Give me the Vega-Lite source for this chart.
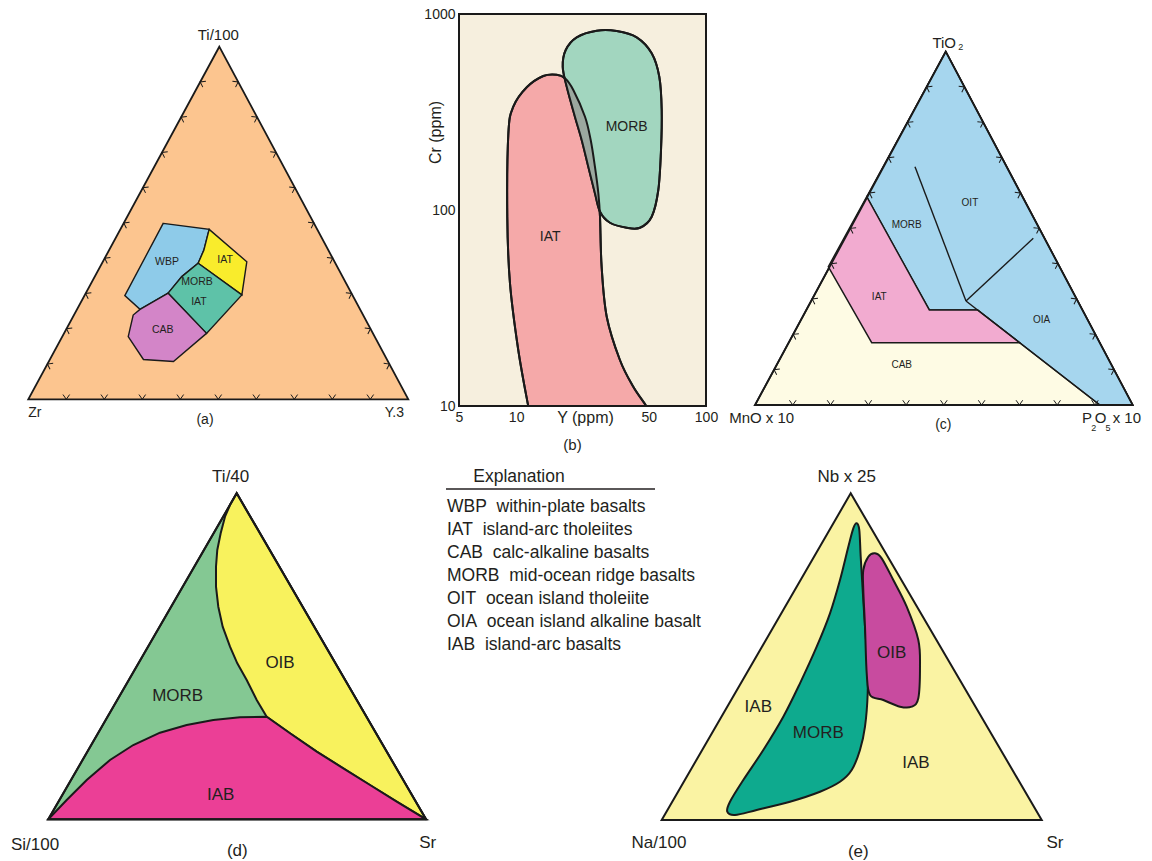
{
  "$schema": "https://vega.github.io/schema/vega-lite/v6.json",
  "padding": 0,
  "background": "white",
  "config": {
    "view": {"stroke": null},
    "text": {"font": "Liberation Sans", "color": "#231f20"},
    "axis": {"labelFont": "Liberation Sans", "titleFont": "Liberation Sans"}
  },
  "datasets": {
    "tri_a": [{"u": 0, "v": 0}, {"u": 1, "v": 0}, {"u": 0.5026, "v": 1}],
    "tri_c": [{"u": 0, "v": 0}, {"u": 1, "v": 0}, {"u": 0.505, "v": 1}],
    "tri_d": [{"u": 0, "v": 0}, {"u": 1, "v": 0}, {"u": 0.4988, "v": 1}],
    "tri_e": [{"u": 0, "v": 0}, {"u": 1, "v": 0}, {"u": 0.4974, "v": 1}],
    "b_iat": [
      {"Y": 12.12, "Cr": 8.0}, {"Y": 11.59, "Cr": 9.92}, {"Y": 10.26, "Cr": 19.31}, {"Y": 9.28, "Cr": 42.27},
      {"Y": 8.98, "Cr": 92.4}, {"Y": 9.1, "Cr": 246.2}, {"Y": 9.66, "Cr": 336.5}, {"Y": 11.37, "Cr": 422.7},
      {"Y": 13.9, "Cr": 482.8}, {"Y": 16.35, "Cr": 490.1}, {"Y": 18.09, "Cr": 469.9}, {"Y": 20.0, "Cr": 409.6},
      {"Y": 23.05, "Cr": 299.2}, {"Y": 24.7, "Cr": 227.6}, {"Y": 26.0, "Cr": 166.3}, {"Y": 27.1, "Cr": 121.7},
      {"Y": 27.65, "Cr": 92.4}, {"Y": 28.2, "Cr": 51.36}, {"Y": 30.0, "Cr": 28.55}, {"Y": 35.2, "Cr": 17.17},
      {"Y": 41.4, "Cr": 12.54}, {"Y": 48.7, "Cr": 9.92}, {"Y": 55.2, "Cr": 8.0}, {"Y": 27.65, "Cr": 7.6}
    ],
    "b_morb": [
      {"Y": 17.59, "Cr": 538.3}, {"Y": 18.24, "Cr": 655.2}, {"Y": 20.84, "Cr": 760.4}, {"Y": 26.56, "Cr": 821.9},
      {"Y": 33.85, "Cr": 819}, {"Y": 43.15, "Cr": 760.4}, {"Y": 51.76, "Cr": 630.4}, {"Y": 56.76, "Cr": 478.6},
      {"Y": 58.44, "Cr": 323.7}, {"Y": 57.95, "Cr": 202.4}, {"Y": 56.08, "Cr": 126.5}, {"Y": 51.76, "Cr": 92.4},
      {"Y": 44.92, "Cr": 81.2}, {"Y": 38.2, "Cr": 81.2}, {"Y": 31.2, "Cr": 86.1}, {"Y": 27.65, "Cr": 98.0},
      {"Y": 26.0, "Cr": 121.7}, {"Y": 23.99, "Cr": 166.3}, {"Y": 22.14, "Cr": 227.6}, {"Y": 20.4, "Cr": 299.2},
      {"Y": 18.47, "Cr": 425.6}
    ]
  },
  "concat": [
    {
      "width": 459, "height": 440,
      "encoding": {
        "x": {"field": "u", "type": "quantitative", "scale": {"domain": [-0.07447, 1.13342], "nice": false, "zero": false}, "axis": null},
        "y": {"field": "v", "type": "quantitative", "scale": {"domain": [-0.11543, 1.13244], "nice": false, "zero": false}, "axis": null}
      },
      "layer": [
        {"data": {"name": "tri_a"}, "mark": {"type": "line", "interpolate": "linear-closed", "fill": "#fcc58f", "stroke": "#1a1a1a", "strokeWidth": 1.8}, "encoding": {"order": {"value": null}}},
        {"data": {"values": [{"u": 0.355, "v": 0.499}, {"u": 0.476, "v": 0.482}, {"u": 0.462, "v": 0.423}, {"u": 0.447, "v": 0.386}, {"u": 0.404, "v": 0.348}, {"u": 0.368, "v": 0.301}, {"u": 0.294, "v": 0.255}, {"u": 0.254, "v": 0.294}]},
         "mark": {"type": "line", "interpolate": "linear-closed", "fill": "#8ecbe9", "stroke": "#1a1a1a", "strokeWidth": 1.4}, "encoding": {"order": {"value": null}}},
        {"data": {"values": [{"u": 0.476, "v": 0.482}, {"u": 0.575, "v": 0.39}, {"u": 0.562, "v": 0.296}, {"u": 0.447, "v": 0.386}, {"u": 0.462, "v": 0.423}]},
         "mark": {"type": "line", "interpolate": "linear-closed", "fill": "#f9ec2c", "stroke": "#1a1a1a", "strokeWidth": 1.4}, "encoding": {"order": {"value": null}}},
        {"data": {"values": [{"u": 0.447, "v": 0.386}, {"u": 0.562, "v": 0.296}, {"u": 0.469, "v": 0.187}, {"u": 0.368, "v": 0.301}, {"u": 0.404, "v": 0.348}]},
         "mark": {"type": "line", "interpolate": "linear-closed", "fill": "#5ec2a8", "stroke": "#1a1a1a", "strokeWidth": 1.4}, "encoding": {"order": {"value": null}}},
        {"data": {"values": [{"u": 0.294, "v": 0.255}, {"u": 0.368, "v": 0.301}, {"u": 0.469, "v": 0.187}, {"u": 0.382, "v": 0.107}, {"u": 0.303, "v": 0.113}, {"u": 0.263, "v": 0.178}, {"u": 0.276, "v": 0.239}]},
         "mark": {"type": "line", "interpolate": "linear-closed", "fill": "#d385c8", "stroke": "#1a1a1a", "strokeWidth": 1.4}, "encoding": {"order": {"value": null}}},
        {"data": {"values": [{"u": 0.1, "v": 0}, {"u": 0.2, "v": 0}, {"u": 0.3, "v": 0}, {"u": 0.4, "v": 0}, {"u": 0.5, "v": 0}, {"u": 0.6, "v": 0}, {"u": 0.7, "v": 0}, {"u": 0.8, "v": 0}, {"u": 0.9, "v": 0}]},
         "mark": {"type": "point", "shape": "M -0.7 -1 L 0 0 L 0.7 -1", "size": 90, "filled": false, "stroke": "#1a1a1a", "strokeWidth": 1, "opacity": 1, "angle": 0}},
        {"data": {"values": [{"u": 0.0503, "v": 0.1}, {"u": 0.1005, "v": 0.2}, {"u": 0.1508, "v": 0.3}, {"u": 0.201, "v": 0.4}, {"u": 0.2513, "v": 0.5}, {"u": 0.3016, "v": 0.6}, {"u": 0.3518, "v": 0.7}, {"u": 0.4021, "v": 0.8}, {"u": 0.4523, "v": 0.9}]},
         "mark": {"type": "point", "shape": "M -0.7 -1 L 0 0 L 0.7 -1", "size": 90, "filled": false, "stroke": "#1a1a1a", "strokeWidth": 1, "opacity": 1, "angle": 118}},
        {"data": {"values": [{"u": 0.9503, "v": 0.1}, {"u": 0.9005, "v": 0.2}, {"u": 0.8508, "v": 0.3}, {"u": 0.801, "v": 0.4}, {"u": 0.7513, "v": 0.5}, {"u": 0.7016, "v": 0.6}, {"u": 0.6518, "v": 0.7}, {"u": 0.6021, "v": 0.8}, {"u": 0.5523, "v": 0.9}]},
         "mark": {"type": "point", "shape": "M -0.7 -1 L 0 0 L 0.7 -1", "size": 90, "filled": false, "stroke": "#1a1a1a", "strokeWidth": 1, "opacity": 1, "angle": 242}},
        {"data": {"values": [{"u": 0.365, "v": 0.389, "t": "WBP"}, {"u": 0.518, "v": 0.395, "t": "IAT"}, {"u": 0.444, "v": 0.333, "t": "MORB"}, {"u": 0.449, "v": 0.276, "t": "IAT"}, {"u": 0.354, "v": 0.197, "t": "CAB"}]},
         "mark": {"type": "text", "fontSize": 10.5}, "encoding": {"text": {"field": "t"}}},
        {"data": {"values": [{"u": 0.5, "v": 1.033, "t": "Ti/100"}]}, "mark": {"type": "text", "fontSize": 15}, "encoding": {"text": {"field": "t"}}},
        {"data": {"values": [{"u": 0.465, "v": -0.0587, "t": "(a)"}]}, "mark": {"type": "text", "fontSize": 14}, "encoding": {"text": {"field": "t"}}},
        {"data": {"values": [{"u": 0, "v": -0.039, "t": "Zr"}]}, "mark": {"type": "text", "fontSize": 14, "align": "left"}, "encoding": {"text": {"field": "t"}}},
        {"data": {"values": [{"u": 0.9887, "v": -0.039, "t": "Y.3"}]}, "mark": {"type": "text", "fontSize": 14, "align": "right"}, "encoding": {"text": {"field": "t"}}}
      ]
    },
    {
      "width": 247, "height": 440,
      "encoding": {
        "x": {"field": "Y", "type": "quantitative", "scale": {"type": "log", "domain": [5, 100], "nice": false},
              "axis": {"values": [5, 10, 50, 100], "format": "d", "ticks": false, "domain": false, "grid": false, "labelFlush": false, "labelOverlap": false, "offset": -34,
                       "labelFontSize": 14, "labelPadding": 4, "labelColor": "#231f20", "title": "Y (ppm)", "titleFontSize": 16, "titleFontWeight": "normal",
                       "titleColor": "#231f20", "titleX": 126, "titleY": 3, "titleBaseline": "top", "titleAlign": "center", "zindex": 1}},
        "y": {"field": "Cr", "type": "quantitative", "scale": {"type": "log", "domain": [6.7082, 1178.9], "nice": false},
              "axis": {"values": [10, 100, 1000], "format": "d", "ticks": false, "domain": false, "grid": false, "labelFlush": false, "labelOverlap": false,
                       "labelFontSize": 14, "labelPadding": 4, "labelColor": "#231f20", "title": "Cr (ppm)", "titleFontSize": 16, "titleFontWeight": "normal",
                       "titleColor": "#231f20", "titleX": -24, "titleY": 132, "titleAngle": -90, "titleBaseline": "middle", "titleAlign": "center", "zindex": 1}}
      },
      "layer": [
        {"data": {"values": [{"Y": 5, "Cr": 10, "Y2": 100, "Cr2": 1000}]}, "mark": {"type": "rect", "fill": "#f6efde", "strokeWidth": 0}, "encoding": {"x2": {"field": "Y2"}, "y2": {"field": "Cr2"}}},
        {"data": {"name": "b_iat"}, "mark": {"type": "line", "interpolate": "cardinal-closed", "fill": "#f5a9a9", "stroke": "#1a1a1a", "strokeWidth": 2}, "encoding": {"order": {"value": null}}},
        {"data": {"name": "b_morb"}, "mark": {"type": "line", "interpolate": "cardinal-closed", "fill": "#a2d6bf", "stroke": "#1a1a1a", "strokeWidth": 2}, "encoding": {"order": {"value": null}}},
        {"data": {"values": [{"Y": 18.09, "Cr": 469.9}, {"Y": 18.47, "Cr": 425.6}, {"Y": 20.4, "Cr": 299.2}, {"Y": 22.14, "Cr": 227.6}, {"Y": 23.99, "Cr": 166.3}, {"Y": 26.0, "Cr": 121.7}, {"Y": 27.65, "Cr": 98.0}, {"Y": 27.1, "Cr": 121.7}, {"Y": 26.0, "Cr": 166.3}, {"Y": 24.7, "Cr": 227.6}, {"Y": 23.05, "Cr": 299.2}, {"Y": 20.0, "Cr": 409.6}]},
         "mark": {"type": "line", "interpolate": "linear-closed", "fill": "#9ba89f", "strokeWidth": 0}, "encoding": {"order": {"value": null}}},
        {"data": {"name": "b_iat"}, "mark": {"type": "line", "interpolate": "cardinal-closed", "stroke": "#1a1a1a", "strokeWidth": 2}, "encoding": {"order": {"value": null}}},
        {"data": {"name": "b_morb"}, "mark": {"type": "line", "interpolate": "cardinal-closed", "stroke": "#1a1a1a", "strokeWidth": 2}, "encoding": {"order": {"value": null}}},
        {"data": {"values": [{"Y": 5, "Cr": 6.7082, "Y2": 100, "Cr2": 10}]}, "mark": {"type": "rect", "fill": "white", "strokeWidth": 0}, "encoding": {"x2": {"field": "Y2"}, "y2": {"field": "Cr2"}}},
        {"data": {"values": [{"Y": 5, "Cr": 10, "Y2": 100, "Cr2": 1000}]}, "mark": {"type": "rect", "fillOpacity": 0, "stroke": "#1a1a1a", "strokeWidth": 2}, "encoding": {"x2": {"field": "Y2"}, "y2": {"field": "Cr2"}}},
        {"data": {"values": [{"Y": 38.2, "Cr": 266, "t": "MORB"}, {"Y": 15.1, "Cr": 72.6, "t": "IAT"}]}, "mark": {"type": "text", "fontSize": 14}, "encoding": {"text": {"field": "t"}}},
        {"data": {"values": [{"Y": 19.8, "Cr": 6.32, "t": "(b)"}]}, "mark": {"type": "text", "fontSize": 15}, "encoding": {"text": {"field": "t"}}}
      ]
    },
    {
      "width": 446, "height": 440,
      "encoding": {
        "x": {"field": "u", "type": "quantitative", "scale": {"domain": [-0.12973, 1.0511], "nice": false, "zero": false}, "axis": null},
        "y": {"field": "v", "type": "quantitative", "scale": {"domain": [-0.09907, 1.14633], "nice": false, "zero": false}, "axis": null}
      },
      "layer": [
        {"data": {"name": "tri_c"}, "mark": {"type": "line", "interpolate": "linear-closed", "fill": "#fefbe4", "stroke": "#1a1a1a", "strokeWidth": 1.8}, "encoding": {"order": {"value": null}}},
        {"data": {"values": [{"u": 0.505, "v": 1}, {"u": 1, "v": 0}, {"u": 0.913, "v": 0}, {"u": 0.5892, "v": 0.269}, {"u": 0.4615, "v": 0.269}, {"u": 0.2957, "v": 0.5896}]},
         "mark": {"type": "line", "interpolate": "linear-closed", "fill": "#a6d6ee", "stroke": "#1a1a1a", "strokeWidth": 1.4}, "encoding": {"order": {"value": null}}},
        {"data": {"values": [{"u": 0.2957, "v": 0.5896}, {"u": 0.4615, "v": 0.269}, {"u": 0.5892, "v": 0.269}, {"u": 0.7008, "v": 0.1763}, {"u": 0.309, "v": 0.1763}, {"u": 0.194, "v": 0.3915}]},
         "mark": {"type": "line", "interpolate": "linear-closed", "fill": "#f2abd0", "stroke": "#1a1a1a", "strokeWidth": 1.4}, "encoding": {"order": {"value": null}}},
        {"data": {"values": [{"u": 0.4236, "v": 0.6745, "u2": 0.5586, "v2": 0.2944}, {"u": 0.5586, "v": 0.2944, "u2": 0.7368, "v2": 0.4718}, {"u": 0.5586, "v": 0.2944, "u2": 0.913, "v2": 0}]},
         "mark": {"type": "rule", "stroke": "#1a1a1a", "strokeWidth": 1.4}, "encoding": {"x2": {"field": "u2"}, "y2": {"field": "v2"}}},
        {"data": {"name": "tri_c"}, "mark": {"type": "line", "interpolate": "linear-closed", "stroke": "#1a1a1a", "strokeWidth": 1.8}, "encoding": {"order": {"value": null}}},
        {"data": {"values": [{"u": 0.1, "v": 0}, {"u": 0.2, "v": 0}, {"u": 0.3, "v": 0}, {"u": 0.4, "v": 0}, {"u": 0.5, "v": 0}, {"u": 0.6, "v": 0}, {"u": 0.7, "v": 0}, {"u": 0.8, "v": 0}, {"u": 0.9, "v": 0}]},
         "mark": {"type": "point", "shape": "M -0.7 -1 L 0 0 L 0.7 -1", "size": 90, "filled": false, "stroke": "#1a1a1a", "strokeWidth": 1, "opacity": 1, "angle": 0}},
        {"data": {"values": [{"u": 0.0505, "v": 0.1}, {"u": 0.101, "v": 0.2}, {"u": 0.1515, "v": 0.3}, {"u": 0.202, "v": 0.4}, {"u": 0.2525, "v": 0.5}, {"u": 0.303, "v": 0.6}, {"u": 0.3535, "v": 0.7}, {"u": 0.404, "v": 0.8}, {"u": 0.4545, "v": 0.9}]},
         "mark": {"type": "point", "shape": "M -0.7 -1 L 0 0 L 0.7 -1", "size": 90, "filled": false, "stroke": "#1a1a1a", "strokeWidth": 1, "opacity": 1, "angle": 118}},
        {"data": {"values": [{"u": 0.9505, "v": 0.1}, {"u": 0.901, "v": 0.2}, {"u": 0.8515, "v": 0.3}, {"u": 0.802, "v": 0.4}, {"u": 0.7525, "v": 0.5}, {"u": 0.703, "v": 0.6}, {"u": 0.6535, "v": 0.7}, {"u": 0.604, "v": 0.8}, {"u": 0.5545, "v": 0.9}]},
         "mark": {"type": "point", "shape": "M -0.7 -1 L 0 0 L 0.7 -1", "size": 90, "filled": false, "stroke": "#1a1a1a", "strokeWidth": 1, "opacity": 1, "angle": 242}},
        {"data": {"values": [{"u": 0.569, "v": 0.571, "t": "OIT"}, {"u": 0.4016, "v": 0.5095, "t": "MORB"}, {"u": 0.329, "v": 0.3065, "t": "IAT"}, {"u": 0.759, "v": 0.2406, "t": "OIA"}, {"u": 0.3884, "v": 0.1132, "t": "CAB"}]},
         "mark": {"type": "text", "fontSize": 10}, "encoding": {"text": {"field": "t"}}},
        {"data": {"values": [{"u": 0.5009, "v": 1.0238, "t": "TiO"}, {"u": 0.0177, "v": -0.0376, "t": "MnO x 10"}, {"u": 0.879, "v": -0.0359, "t": "P"}, {"u": 0.9148, "v": -0.0359, "t": "O"}]},
         "mark": {"type": "text", "fontSize": 15}, "encoding": {"text": {"field": "t"}}},
        {"data": {"values": [{"u": 0.947, "v": -0.0359, "t": "x 10"}]}, "mark": {"type": "text", "fontSize": 15, "align": "left"}, "encoding": {"text": {"field": "t"}}},
        {"data": {"values": [{"u": 0.5446, "v": 1.0124, "t": "2"}, {"u": 0.8967, "v": -0.0651, "t": "2"}, {"u": 0.9346, "v": -0.0651, "t": "5"}]},
         "mark": {"type": "text", "fontSize": 9}, "encoding": {"text": {"field": "t"}}},
        {"data": {"values": [{"u": 0.4985, "v": -0.0566, "t": "(c)"}]}, "mark": {"type": "text", "fontSize": 14}, "encoding": {"text": {"field": "t"}}}
      ]
    },
    {
      "width": 459, "height": 421,
      "encoding": {
        "x": {"field": "u", "type": "quantitative", "scale": {"domain": [-0.12788, 1.08738], "nice": false, "zero": false}, "axis": null},
        "y": {"field": "v", "type": "quantitative", "scale": {"domain": [-0.12791, 1.1635], "nice": false, "zero": false}, "axis": null}
      },
      "layer": [
        {"data": {"name": "tri_d"}, "mark": {"type": "line", "interpolate": "linear-closed", "fill": "#84c893", "stroke": "#1a1a1a", "strokeWidth": 2}, "encoding": {"order": {"value": null}}},
        {"data": {"values": [{"u": 0.4988, "v": 1}, {"u": 0.4811, "v": 0.9641}, {"u": 0.4678, "v": 0.9282}, {"u": 0.4564, "v": 0.8773}, {"u": 0.4474, "v": 0.8261}, {"u": 0.444, "v": 0.7748}, {"u": 0.444, "v": 0.7135}, {"u": 0.4501, "v": 0.6521}, {"u": 0.4617, "v": 0.5908}, {"u": 0.4811, "v": 0.5294}, {"u": 0.5004, "v": 0.4785}, {"u": 0.5253, "v": 0.4273}, {"u": 0.5518, "v": 0.366}, {"u": 0.5782, "v": 0.3147}, {"u": 0.6399, "v": 0.2638}, {"u": 0.7106, "v": 0.2074}, {"u": 0.781, "v": 0.1564}, {"u": 0.8517, "v": 0.1052}, {"u": 0.9224, "v": 0.054}, {"u": 1, "v": 0}]},
         "mark": {"type": "line", "interpolate": "linear-closed", "fill": "#f8f25d", "stroke": "#1a1a1a", "strokeWidth": 2}, "encoding": {"order": {"value": null}}},
        {"data": {"values": [{"u": 0, "v": 0}, {"u": 0.0487, "v": 0.0592}, {"u": 0.1017, "v": 0.1206}, {"u": 0.1634, "v": 0.1819}, {"u": 0.225, "v": 0.2279}, {"u": 0.2957, "v": 0.2656}, {"u": 0.3664, "v": 0.2893}, {"u": 0.4369, "v": 0.3046}, {"u": 0.5075, "v": 0.3129}, {"u": 0.5782, "v": 0.3147}, {"u": 0.6399, "v": 0.2638}, {"u": 0.7106, "v": 0.2074}, {"u": 0.781, "v": 0.1564}, {"u": 0.8517, "v": 0.1052}, {"u": 0.9224, "v": 0.054}, {"u": 1, "v": 0}]},
         "mark": {"type": "line", "interpolate": "linear-closed", "fill": "#eb3f96", "stroke": "#1a1a1a", "strokeWidth": 2}, "encoding": {"order": {"value": null}}},
        {"data": {"name": "tri_d"}, "mark": {"type": "line", "interpolate": "linear-closed", "stroke": "#1a1a1a", "strokeWidth": 2}, "encoding": {"order": {"value": null}}},
        {"data": {"values": [{"u": 0.6135, "v": 0.4785, "t": "OIB"}, {"u": 0.3426, "v": 0.3782, "t": "MORB"}, {"u": 0.4564, "v": 0.0745, "t": "IAB"}, {"u": 0.4829, "v": 1.0491, "t": "Ti/40"}, {"u": -0.0352, "v": -0.0788, "t": "Si/100"}, {"u": 1.0045, "v": -0.0736, "t": "Sr"}, {"u": 0.5004, "v": -0.0963, "t": "(d)"}]},
         "mark": {"type": "text", "fontSize": 17}, "encoding": {"text": {"field": "t"}}}
      ]
    },
    {
      "width": 247, "height": 421,
      "encoding": {
        "x": {"field": "c", "type": "quantitative", "scale": {"domain": [0.08636, 1.20909], "nice": false, "zero": false}, "axis": null},
        "y": {"field": "r", "type": "quantitative", "scale": {"domain": [-2.913, 15.391], "nice": false, "zero": false, "reverse": true}, "axis": null}
      },
      "layer": [
        {"data": {"values": [{"c": 0.3591, "r": -1.304, "t": "Explanation"}]}, "mark": {"type": "text", "fontSize": 17.5}, "encoding": {"text": {"field": "t"}}},
        {"data": {"values": [{"c": 0.0273, "c2": 0.9773, "r": -0.783}]}, "mark": {"type": "rule", "stroke": "#231f20", "strokeWidth": 1.5}, "encoding": {"x2": {"field": "c2"}}},
        {"data": {"values": [
          {"c": 0.0318, "r": 0, "t": "WBP\u00a0 within-plate basalts"},
          {"c": 0.0318, "r": 1, "t": "IAT\u00a0 island-arc tholeiites"},
          {"c": 0.0318, "r": 2, "t": "CAB\u00a0 calc-alkaline basalts"},
          {"c": 0.0318, "r": 3, "t": "MORB\u00a0 mid-ocean ridge basalts"},
          {"c": 0.0318, "r": 4, "t": "OIT\u00a0 ocean island tholeiite"},
          {"c": 0.0318, "r": 5, "t": "OIA\u00a0 ocean island alkaline basalt"},
          {"c": 0.0318, "r": 6, "t": "IAB\u00a0 island-arc basalts"}
        ]}, "mark": {"type": "text", "fontSize": 17.5, "align": "left"}, "encoding": {"text": {"field": "t"}}}
      ]
    },
    {
      "width": 446, "height": 421,
      "encoding": {
        "x": {"field": "u", "type": "quantitative", "scale": {"domain": [0.11658, 1.29026], "nice": false, "zero": false}, "axis": null},
        "y": {"field": "v", "type": "quantitative", "scale": {"domain": [-0.1255, 1.16315], "nice": false, "zero": false}, "axis": null}
      },
      "layer": [
        {"data": {"name": "tri_e"}, "mark": {"type": "line", "interpolate": "linear-closed", "fill": "#faf3a3", "stroke": "#1a1a1a", "strokeWidth": 2}, "encoding": {"order": {"value": null}}},
        {"data": {"values": [{"u": 0.5132, "v": 0.9082}, {"u": 0.52, "v": 0.8877}, {"u": 0.5237, "v": 0.8059}, {"u": 0.5289, "v": 0.704}, {"u": 0.535, "v": 0.5917}, {"u": 0.5411, "v": 0.4897}, {"u": 0.5421, "v": 0.3878}, {"u": 0.535, "v": 0.2856}, {"u": 0.5218, "v": 0.2143}, {"u": 0.5, "v": 0.153}, {"u": 0.4692, "v": 0.1172}, {"u": 0.4166, "v": 0.0866}, {"u": 0.3376, "v": 0.056}, {"u": 0.25, "v": 0.0306}, {"u": 0.1929, "v": 0.0153}, {"u": 0.1726, "v": 0.0254}, {"u": 0.1797, "v": 0.056}, {"u": 0.2147, "v": 0.1224}, {"u": 0.2674, "v": 0.2143}, {"u": 0.32, "v": 0.3162}, {"u": 0.3639, "v": 0.4184}, {"u": 0.4079, "v": 0.5305}, {"u": 0.4429, "v": 0.6327}, {"u": 0.4692, "v": 0.7346}, {"u": 0.4911, "v": 0.8366}, {"u": 0.5042, "v": 0.8929}]},
         "mark": {"type": "line", "interpolate": "cardinal-closed", "fill": "#0eaa8e", "stroke": "#1a1a1a", "strokeWidth": 2}, "encoding": {"order": {"value": null}}},
        {"data": {"values": [{"u": 0.5613, "v": 0.8163}, {"u": 0.5789, "v": 0.801}, {"u": 0.6095, "v": 0.7346}, {"u": 0.6447, "v": 0.6529}, {"u": 0.6753, "v": 0.551}, {"u": 0.6797, "v": 0.4692}, {"u": 0.6753, "v": 0.3725}, {"u": 0.6579, "v": 0.3468}, {"u": 0.6271, "v": 0.3468}, {"u": 0.5832, "v": 0.3673}, {"u": 0.5482, "v": 0.3826}, {"u": 0.5395, "v": 0.449}, {"u": 0.535, "v": 0.5917}, {"u": 0.5305, "v": 0.704}, {"u": 0.5305, "v": 0.7652}, {"u": 0.5437, "v": 0.8059}]},
         "mark": {"type": "line", "interpolate": "cardinal-closed", "fill": "#c84b9f", "stroke": "#1a1a1a", "strokeWidth": 2}, "encoding": {"order": {"value": null}}},
        {"data": {"values": [{"u": 0.2542, "v": 0.3468, "t": "IAB"}, {"u": 0.4121, "v": 0.2672, "t": "MORB"}, {"u": 0.6053, "v": 0.5121, "t": "OIB"}, {"u": 0.6692, "v": 0.1754, "t": "IAB"}, {"u": 0.4868, "v": 1.049, "t": "Nb x 25"}, {"u": -0.0071, "v": -0.0713, "t": "Na/100"}, {"u": 1.035, "v": -0.0713, "t": "Sr"}, {"u": 0.5174, "v": -0.097, "t": "(e)"}]},
         "mark": {"type": "text", "fontSize": 17}, "encoding": {"text": {"field": "t"}}}
      ]
    }
  ],
  "columns": 3,
  "align": "none",
  "spacing": 0,
  "bounds": "flush"
}
